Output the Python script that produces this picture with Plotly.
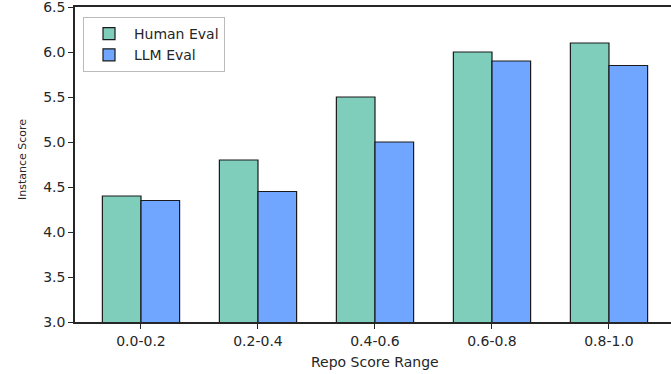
import plotly.graph_objects as go

categories = ["0.0-0.2", "0.2-0.4", "0.4-0.6", "0.6-0.8", "0.8-1.0"]
human_eval = [4.4, 4.8, 5.5, 6.0, 6.1]
llm_eval = [4.35, 4.45, 5.0, 5.9, 5.85]
y_ticks = [3.0, 3.5, 4.0, 4.5, 5.0, 5.5, 6.0, 6.5]

FONT = "DejaVu Sans"
TXT = "#262626"
W, H = 671, 374
ml, mr, mt, mb = 75, 0, 7, 52
plot_w = W - ml - mr
plot_h = H - mt - mb

fig = go.Figure()
fig.add_trace(go.Bar(
    x=categories, y=human_eval, name="Human Eval",
    marker=dict(color="#7fcdbb", line=dict(color="#1a1a1a", width=1.2)),
))
fig.add_trace(go.Bar(
    x=categories, y=llm_eval, name="LLM Eval",
    marker=dict(color="#70a6ff", line=dict(color="#1a1a1a", width=1.2)),
))

fig.update_layout(
    width=W, height=H,
    margin=dict(l=ml, r=mr, t=mt, b=mb, pad=0, autoexpand=False),
    paper_bgcolor="white", plot_bgcolor="white",
    barmode="group", bargap=0.34, bargroupgap=0,
    font=dict(family=FONT, size=14, color=TXT),
    showlegend=True,
    legend=dict(
        x=8 / plot_w, y=1 - 10 / plot_h, xanchor="left", yanchor="top",
        bgcolor="rgba(255,255,255,0.8)", bordercolor="#bbbbbb", borderwidth=1,
        font=dict(family=FONT, size=14, color=TXT),
        itemwidth=40, tracegroupgap=2,
    ),
)
fig.update_xaxes(
    type="category", range=[-0.564, 4.53], automargin=False,
    showline=True, linecolor=TXT, linewidth=1.5, mirror=True,
    ticks="outside", ticklen=5, tickcolor=TXT, tickwidth=1,
    showgrid=False, zeroline=False,
    tickfont=dict(family=FONT, size=14, color=TXT),
)
fig.update_yaxes(
    range=[3.0, 6.5], tickvals=y_ticks, ticktext=[f"{v:.1f}" for v in y_ticks],
    automargin=False, ticklabeloverflow="allow",
    showline=True, linecolor=TXT, linewidth=1.5, mirror=False,
    ticks="outside", ticklen=5, tickcolor=TXT, tickwidth=1,
    showgrid=False, zeroline=False,
    tickfont=dict(family=FONT, size=14, color=TXT),
)
fig.add_annotation(
    text="Repo Score Range", xref="paper", yref="paper",
    x=(375 - ml) / plot_w, y=-40 / plot_h, xanchor="center", yanchor="middle",
    showarrow=False, font=dict(family=FONT, size=14, color=TXT),
)
fig.add_annotation(
    text="Instance Score", xref="paper", yref="paper",
    x=(22 - ml) / plot_w, y=(322 - 160) / plot_h, xanchor="center", yanchor="middle",
    textangle=-90, showarrow=False,
    font=dict(family=FONT, size=11, color=TXT),
)

fig.write_html(
    "out.html",
    config={"displayModeBar": False},
    post_script="document.body.style.margin='0';document.body.style.padding='0';",
)
